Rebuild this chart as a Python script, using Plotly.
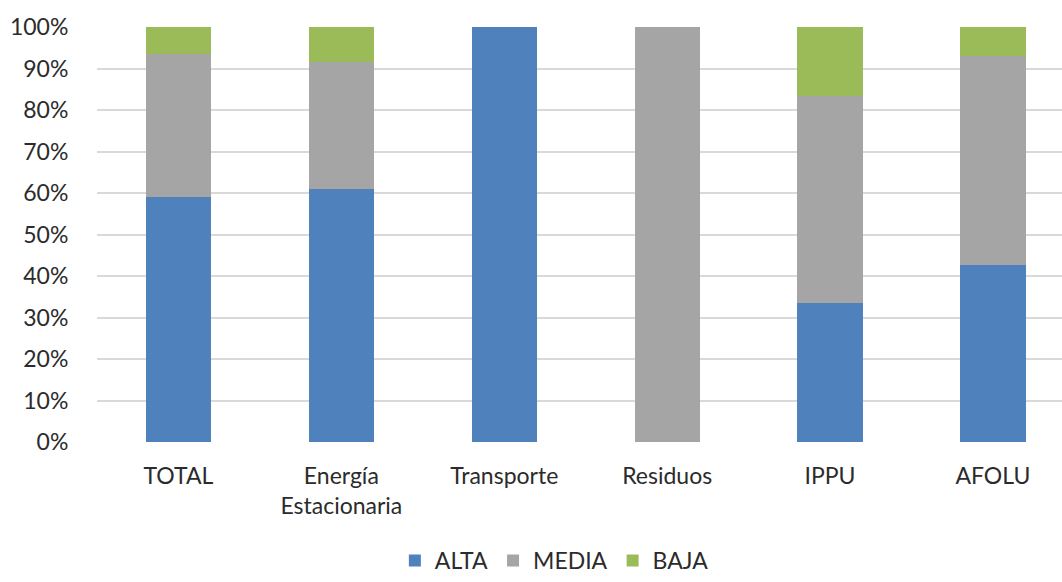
import plotly.graph_objects as go

categories = ["TOTAL", "Energía<br>Estacionaria", "Transporte", "Residuos", "IPPU", "AFOLU"]
alta = [59.0, 60.9, 100.0, 0.0, 33.5, 42.7]
media = [34.6, 30.7, 0.0, 100.0, 49.8, 50.3]
baja = [6.4, 8.4, 0.0, 0.0, 16.7, 7.0]
y_ticks = [0, 10, 20, 30, 40, 50, 60, 70, 80, 90, 100]

colors = {"ALTA": "#4F81BD", "MEDIA": "#A5A5A5", "BAJA": "#9BBB59"}
font_family = "Lato, Carlito, Calibri, sans-serif"
text_color = "#2B2B2B"
font_size = 23

fig = go.Figure()
for name, vals in [("ALTA", alta), ("MEDIA", media), ("BAJA", baja)]:
    fig.add_trace(go.Bar(
        name=name,
        x=list(range(len(categories))),
        y=[v / 100 for v in vals],
        marker=dict(color=colors[name], line=dict(width=0)),
        width=0.4,
    ))

fig.update_layout(
    barmode="stack",
    width=1062,
    height=582,
    margin=dict(l=97, r=0, t=27, b=140, autoexpand=False),
    paper_bgcolor="white",
    plot_bgcolor="white",
    font=dict(family=font_family, size=font_size, color=text_color),
    showlegend=True,
    legend=dict(
        orientation="h",
        xref="container", x=0.522, xanchor="center",
        yref="container", y=0.0, yanchor="bottom",
        font=dict(size=font_size, color=text_color),
        itemwidth=30,
        traceorder="normal",
    ),
)

fig.update_xaxes(
    range=[-0.5, 5.424],
    tickmode="array",
    tickvals=list(range(len(categories))),
    ticktext=categories,
    showgrid=False,
    zeroline=False,
    showline=False,
    ticks="outside",
    ticklen=13,
    tickcolor="rgba(0,0,0,0)",
    tickfont=dict(size=font_size, color=text_color),
    automargin=False,
)

fig.update_yaxes(
    range=[0, 1.0],
    tickmode="array",
    tickvals=[t / 100 for t in y_ticks],
    ticktext=[f"{t}%" for t in y_ticks],
    showgrid=True,
    gridcolor="#D9D9D9",
    gridwidth=2,
    zeroline=False,
    showline=False,
    ticks="outside",
    ticklen=23,
    tickcolor="rgba(0,0,0,0)",
    tickfont=dict(size=font_size, color=text_color),
    automargin=False,
)

fig.write_html("out.html")
